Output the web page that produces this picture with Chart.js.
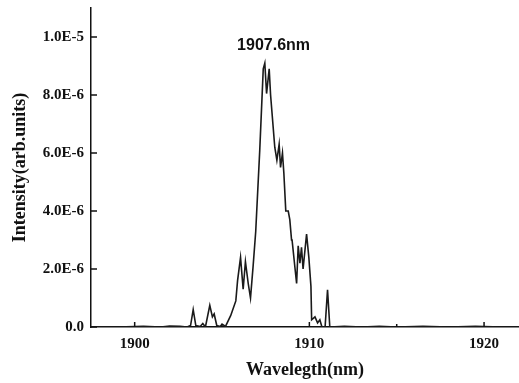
<!DOCTYPE html>
<html>
<head>
<meta charset="utf-8">
<script src="https://cdn.jsdelivr.net/npm/chart.js@4.4.1/dist/chart.umd.min.js"></script>
<style>
  body { margin: 0; background: #fff; }
  #wrap { width: 519px; height: 383px; }
</style>
</head>
<body>
<div id="wrap"><canvas id="spectrum" width="519" height="383"></canvas></div>
<script>
'use strict';

// spectrum: wavelength (nm) and intensity (arb. units)
const wavelength = [
  1897.5, 1899.0, 1900.5, 1901.5, 1902.0, 1902.6, 1903.0, 1903.2, 1903.35, 1903.5,
  1903.75, 1903.9, 1904.05, 1904.3, 1904.45, 1904.55, 1904.7, 1904.9, 1905.0, 1905.2,
  1905.5, 1905.79, 1905.89, 1906.06, 1906.21, 1906.34, 1906.5, 1906.63, 1906.78, 1906.93,
  1907.16, 1907.36, 1907.45, 1907.55, 1907.70, 1907.78, 1908.02, 1908.14, 1908.27, 1908.35,
  1908.46, 1908.54, 1908.65, 1908.79, 1908.88, 1908.98, 1909.01, 1909.17, 1909.27, 1909.36,
  1909.46, 1909.55, 1909.64, 1909.84, 1909.97, 1910.09, 1910.13, 1910.32, 1910.47, 1910.6,
  1910.72, 1910.9, 1911.04, 1911.17, 1912.0, 1913.0, 1914.0, 1915.0, 1916.5, 1918.0,
  1919.5, 1921.0, 1922.0
];
const intensity = [
  0, 0, 0.02e-6, 0, 0.03e-6, 0.02e-6, 0, 0.05e-6, 0.6e-6, 0.05e-6,
  0.02e-6, 0.12e-6, 0, 0.75e-6, 0.35e-6, 0.45e-6, 0.05e-6, 0.02e-6, 0.1e-6, 0.02e-6,
  0.4e-6, 0.9e-6, 1.6e-6, 2.4e-6, 1.3e-6, 2.25e-6, 1.5e-6, 1.0e-6, 2.1e-6, 3.3e-6,
  6.1e-6, 8.9e-6, 9.1e-6, 8.05e-6, 8.9e-6, 8.0e-6, 6.2e-6, 5.75e-6, 6.3e-6, 5.5e-6,
  6.0e-6, 5.3e-6, 4.0e-6, 4.0e-6, 3.7e-6, 3.0e-6, 3.0e-6, 2.07e-6, 1.5e-6, 2.8e-6,
  2.2e-6, 2.75e-6, 2.0e-6, 3.2e-6, 2.4e-6, 1.4e-6, 0.25e-6, 0.35e-6, 0.14e-6, 0.25e-6,
  0, 0, 1.28e-6, 0, 0.02e-6, 0, 0.02e-6, 0, 0.02e-6, 0,
  0.02e-6, 0, 0
];

const xTicks = [1900, 1910, 1920];
const xTickLabels = ['1900', '1910', '1920'];
const xMinorTicks = [1905, 1915];
const yTicks = [0, 2e-6, 4e-6, 6e-6, 8e-6, 1e-5];
const yTickLabels = ['0.0', '2.0E-6', '4.0E-6', '6.0E-6', '8.0E-6', '1.0E-5'];

const peakLabel = '1907.6nm';
const peakLabelAt = { x: 1907.95, y: 9.7e-6 };

const points = wavelength.map((w, i) => ({ x: w, y: intensity[i] }));

const serifBold = { family: '"Liberation Serif", "Times New Roman", serif', weight: 'bold', size: 15 };
const titleFont = { family: serifBold.family, weight: 'bold', size: 18 };

// inward tick marks and the peak label, placed through the chart's scales
const extras = {
  id: 'extras',
  afterDraw(chart) {
    const ctx = chart.ctx;
    const xs = chart.scales.x, ys = chart.scales.y;
    const area = chart.chartArea;
    ctx.save();
    ctx.strokeStyle = '#111';
    ctx.lineWidth = 1.5;
    ctx.beginPath();
    yTicks.forEach(v => {
      const py = ys.getPixelForValue(v);
      ctx.moveTo(area.left, py);
      ctx.lineTo(area.left + 6, py);
    });
    xTicks.forEach(v => {
      const px = xs.getPixelForValue(v);
      ctx.moveTo(px, area.bottom);
      ctx.lineTo(px, area.bottom - 5);
    });
    xMinorTicks.forEach(v => {
      const px = xs.getPixelForValue(v);
      ctx.moveTo(px, area.bottom);
      ctx.lineTo(px, area.bottom - 3);
    });
    ctx.stroke();

    ctx.fillStyle = '#111';
    ctx.font = 'bold 16px "Liberation Sans", Arial, sans-serif';
    ctx.textAlign = 'center';
    ctx.textBaseline = 'middle';
    ctx.fillText(peakLabel, xs.getPixelForValue(peakLabelAt.x), ys.getPixelForValue(peakLabelAt.y));
    ctx.restore();
  }
};

const config = {
  type: 'scatter',
  data: {
    datasets: [{
      data: points,
      showLine: true,
      borderColor: '#1a1a1a',
      borderWidth: 1.6,
      pointRadius: 0,
      tension: 0
    }]
  },
  options: {
    responsive: false,
    animation: false,
    layout: { padding: { top: 8, right: 0, bottom: 0, left: 0 } },
    plugins: { legend: { display: false }, tooltip: { enabled: false } },
    scales: {
      x: {
        type: 'linear',
        min: 1897.5,
        max: 1922,
        afterBuildTicks: s => { s.ticks = xTicks.map(v => ({ value: v })); },
        afterFit: s => { s.height = 56; s.paddingLeft = 0; s.paddingRight = 0; },
        grid: { display: false, drawTicks: false },
        border: { display: true, color: '#111', width: 1.5 },
        ticks: {
          color: '#111', font: serifBold, padding: 8, maxRotation: 0,
          callback: v => xTickLabels[xTicks.indexOf(v)]
        },
        title: {
          display: true, text: 'Wavelegth(nm)', color: '#111',
          font: titleFont,
          padding: { top: 0, bottom: 2 }
        }
      },
      y: {
        type: 'linear',
        min: 0,
        max: 1.1e-5,
        afterBuildTicks: s => { s.ticks = yTicks.map(v => ({ value: v })); },
        afterFit: s => { s.width = 91; s.paddingTop = 0; s.paddingBottom = 0; },
        grid: { display: false, drawTicks: false },
        border: { display: true, color: '#111', width: 1.5 },
        ticks: {
          color: '#111', font: serifBold, padding: 7,
          callback: v => yTickLabels[yTicks.indexOf(v)]
        },
        title: {
          display: true, text: 'Intensity(arb.units)', color: '#111',
          font: titleFont,
          padding: { top: 10, bottom: 0 }
        }
      }
    }
  },
  plugins: [extras]
};

const spectrumChart = new Chart(document.getElementById('spectrum'), config);
</script>
</body>
</html>
